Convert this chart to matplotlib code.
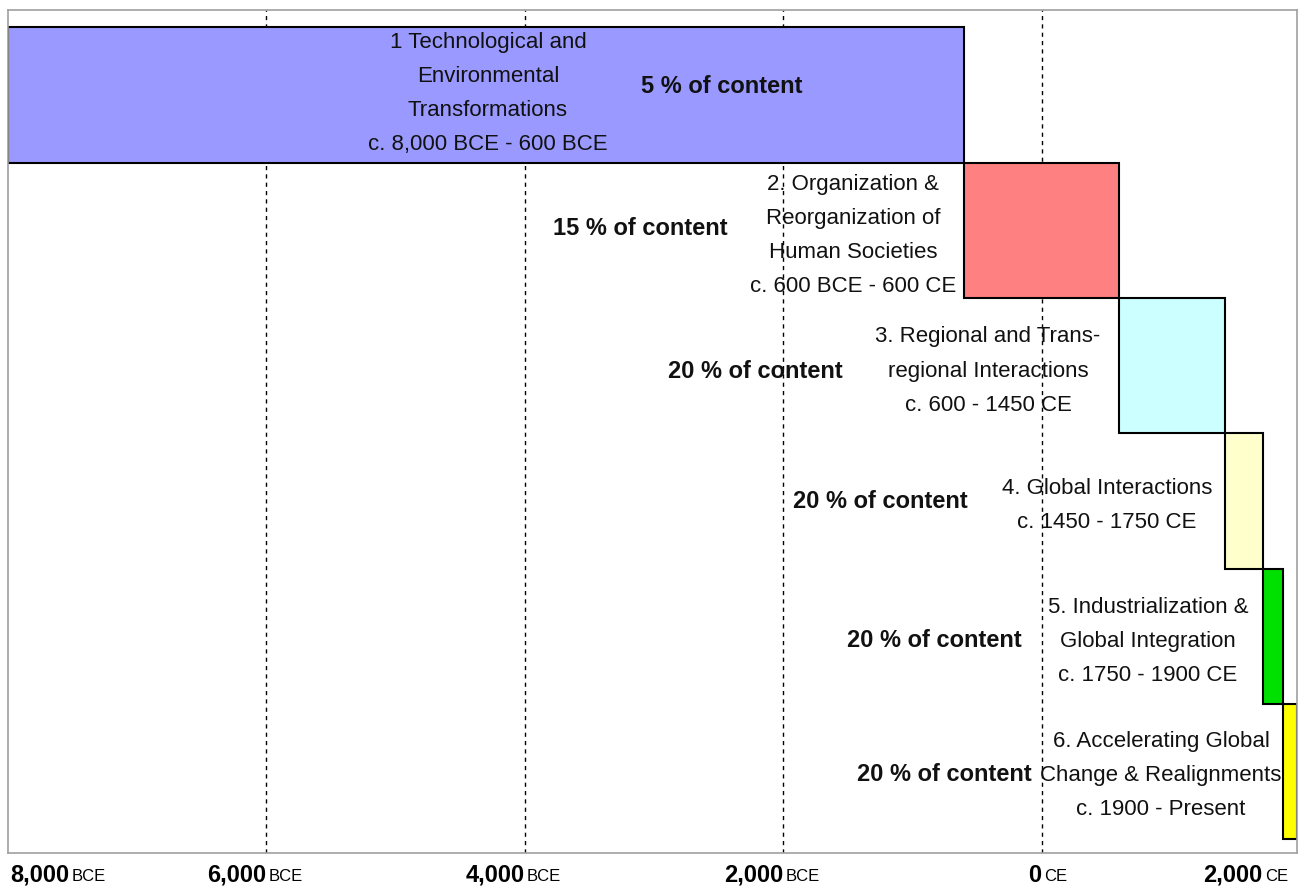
import matplotlib
matplotlib.use("Agg")
import matplotlib.pyplot as plt
from matplotlib import font_manager

# era spans as drawn (years, negative = BCE)
era_start = [-8000, -600, 600, 1420, 1710, 1865]
era_end = [-600, 600, 1420, 1710, 1865, 1976]
era_colors = ["#9999FF", "#FF8080", "#CCFFFF", "#FFFFCC", "#00E000", "#FFFF00"]
era_labels = [
    "1 Technological and\nEnvironmental\nTransformations\nc. 8,000 BCE - 600 BCE",
    "2. Organization &\nReorganization of\nHuman Societies\nc. 600 BCE - 600 CE",
    "3. Regional and Trans-\nregional Interactions\nc. 600 - 1450 CE",
    "4. Global Interactions\nc. 1450 - 1750 CE",
    "5. Industrialization &\nGlobal Integration\nc. 1750 - 1900 CE",
    "6. Accelerating Global\nChange & Realignments\nc. 1900 - Present",
]
content_pct = [5, 15, 20, 20, 20, 20]

tick_years = [-8000, -6000, -4000, -2000, 0, 2000]
tick_nums = ["8,000", "6,000", "4,000", "2,000", "0", "2,000"]
tick_suffix = ["BCE", "BCE", "BCE", "BCE", "CE", "CE"]
grid_years = [-6000, -4000, -2000, 0]

# where the text sits (layout only)
label_x = [-4285, -1460, -415, 506, 824, 925]
label_dy = [0.49, 0.54, 0.54, 0.53, 0.54, 0.53]
pct_x = [-2474, -3108, -2218, -1251, -833, -756]
pct_dy = [0.44, 0.49, 0.54, 0.50, 0.53, 0.52]

names = {f.name for f in font_manager.fontManager.ttflist}
fam = ["Liberation Sans Narrow", "DejaVu Sans"] if "Liberation Sans Narrow" in names else ["Liberation Sans", "DejaVu Sans"]
plt.rcParams["font.family"] = fam

fig = plt.figure(figsize=(13.07, 8.92), dpi=100)
ax = fig.add_axes([0.0061, 0.0437, 0.9866, 0.945])

for g in grid_years:
    ax.axvline(g, color="black", ls=(0, (3, 3)), lw=1, zorder=1)

for i in range(len(era_start)):
    ax.barh(i, era_end[i] - era_start[i], left=era_start[i], height=1.0,
            align="edge", color=era_colors[i], edgecolor="black", lw=1.5, zorder=2)
    ax.text(label_x[i], i + label_dy[i], era_labels[i], ha="center", va="center",
            fontsize=16, linespacing=1.82, color="#111111", zorder=3)
    ax.text(pct_x[i], i + pct_dy[i], "%d %% of content" % content_pct[i], ha="center",
            va="center", fontsize=17, fontweight="bold", color="#111111", zorder=3)

ax.set_xlim(-8000, 1980)
ax.set_ylim(6.10, -0.126)
ax.set_xticks([])
ax.set_yticks([])
for s in ax.spines.values():
    s.set_color("#A0A0A0")
    s.set_linewidth(1.2)

# tick labels: bold number + small suffix
for i, yr in enumerate(tick_years):
    if i == 0:
        num = ax.text(0.002, -0.013, tick_nums[i], transform=ax.transAxes, ha="left", va="top",
                      fontsize=17, fontweight="bold")
    elif i == len(tick_years) - 1:
        num = ax.text(0.973, -0.013, tick_nums[i], transform=ax.transAxes, ha="right", va="top",
                      fontsize=17, fontweight="bold")
    else:
        num = ax.text(yr, -0.013, tick_nums[i], transform=ax.get_xaxis_transform(), ha="right",
                      va="top", fontsize=17, fontweight="bold")
    ax.annotate(tick_suffix[i], xy=(1, 0), xycoords=num, xytext=(1.5, 2),
                textcoords="offset points", ha="left", va="bottom", fontsize=12)

fig.savefig("out.png", dpi=100)
